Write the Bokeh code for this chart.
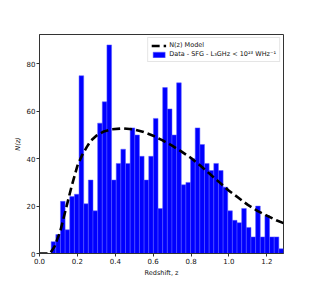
import numpy as np
from bokeh.plotting import figure
from bokeh.models import FixedTicker, Legend, LegendItem, Range1d, NumeralTickFormatter
from bokeh.embed import file_html
from bokeh.resources import INLINE

# Histogram counts (50 bins)
counts = [5, 8, 22, 10, 24, 25, 75, 21, 31, 18,
          55, 64, 88, 31, 38, 44, 38, 53, 50, 41,
          31, 41, 57, 19, 70, 61, 50, 72, 29, 30,
          40, 53, 46, 38, 35, 38, 35, 28, 18, 14,
          13, 19, 11, 7, 20, 7, 16, 7, 7, 2]
z_min = 0.0616
z_max = 1.288

# N(z) model curve
model_z = [0.0, 0.055, 0.08, 0.11, 0.14, 0.17, 0.2, 0.225, 0.25, 0.27, 0.3,
           0.34, 0.38, 0.44, 0.5, 0.55, 0.6, 0.65, 0.7, 0.75, 0.8, 0.85,
           0.9, 0.95, 1.0, 1.05, 1.1, 1.15, 1.2, 1.25, 1.288]
model_n = [0.0, 0.0, 3.0, 9.5, 19.0, 28.5, 37.0, 41.5, 45.0, 47.5, 49.7,
           51.5, 52.4, 52.8, 52.3, 51.3, 49.7, 47.7, 45.5, 43.0, 40.3, 37.0,
           33.5, 30.0, 26.5, 23.5, 20.5, 18.0, 16.0, 14.0, 12.8]

x_ticks = [0.0, 0.2, 0.4, 0.6, 0.8, 1.0, 1.2]
y_ticks = [0, 20, 40, 60, 80]

edges = np.linspace(z_min, z_max, len(counts) + 1)

p = figure(frame_width=244, frame_height=219,
           x_range=Range1d(0, z_max), y_range=Range1d(0, 92.4),
           output_backend="svg", toolbar_location=None,
           min_border_left=39, min_border_top=34,
           min_border_right=24, min_border_bottom=23)

bars = p.quad(left=edges[:-1], right=edges[1:], bottom=0, top=counts,
              fill_color="#0000ff", line_color="#5c5cff", line_width=0.5)
line = p.line(model_z, model_n, line_color="black", line_width=2.6,
              line_dash="8 4")

legend = Legend(items=[
    LegendItem(label="N(z) Model", renderers=[line]),
    LegendItem(label="Data - SFG - L₃GHz < 10²³ WHz⁻¹", renderers=[bars]),
], location="top_right")
legend.margin = 3
legend.padding = 3
legend.spacing = 1
legend.glyph_width = 15
legend.glyph_height = 7
legend.label_height = 8
legend.label_standoff = 3
legend.label_text_font = "DejaVu Sans"
legend.label_text_font_size = "6.5px"
legend.label_text_color = "#111111"
legend.border_line_color = "#cccccc"
legend.border_line_width = 1
legend.background_fill_alpha = 0.8
p.add_layout(legend)

p.xgrid.visible = False
p.ygrid.visible = False
p.outline_line_color = "#333333"
p.outline_line_width = 1

for ax in (p.xaxis, p.yaxis):
    ax.major_tick_in = 0
    ax.major_tick_out = 3
    ax.minor_tick_line_color = None
    ax.axis_line_color = "#333333"
    ax.major_tick_line_color = "#333333"
    ax.major_label_text_font = "DejaVu Sans"
    ax.major_label_text_font_size = "7px"
    ax.major_label_text_color = "#111111"
    ax.axis_label_text_font = "DejaVu Sans"
    ax.axis_label_text_font_size = "6.5px"
    ax.axis_label_text_font_style = "normal"
    ax.axis_label_text_color = "#111111"
    ax.major_label_standoff = 1
    ax.axis_label_standoff = 2

p.xaxis.ticker = FixedTicker(ticks=x_ticks)
p.xaxis.formatter = NumeralTickFormatter(format="0.0")
p.yaxis.ticker = FixedTicker(ticks=y_ticks)
p.xaxis.axis_label = "Redshift, z"
p.yaxis.axis_label = "N(z)"
p.yaxis.axis_label_text_font_style = "italic"

open("out.html", "w").write(file_html(p, INLINE))
